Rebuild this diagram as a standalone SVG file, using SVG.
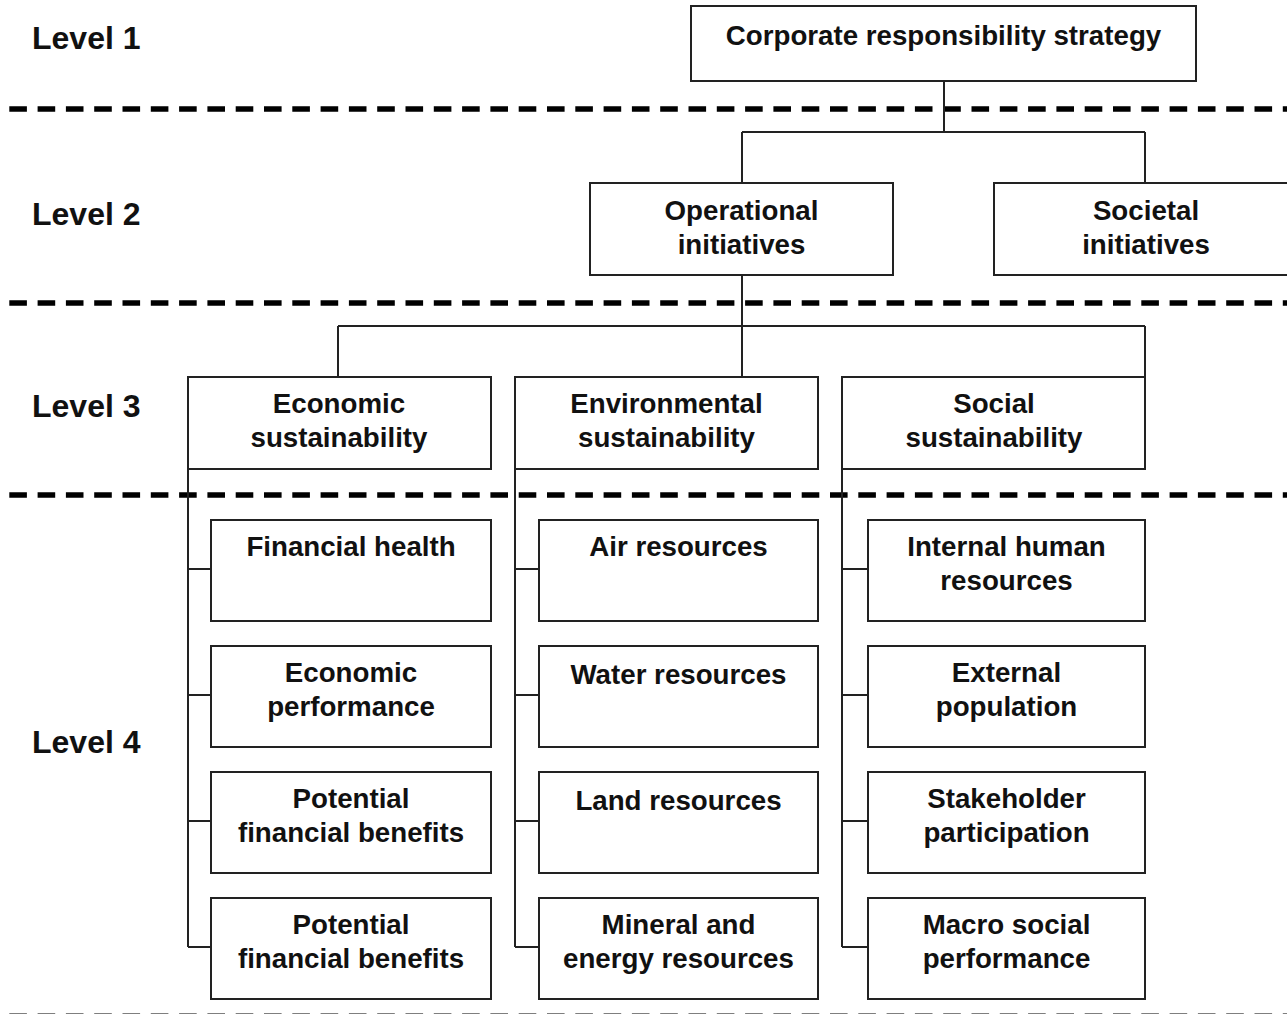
<svg xmlns="http://www.w3.org/2000/svg" width="1287" height="1014" viewBox="0 0 1287 1014">
<style>
.bg{fill:#fff}
.box{fill:#fff;stroke:#222;stroke-width:2}
.con{fill:none;stroke:#222;stroke-width:2}
.dash{stroke:#000;stroke-width:5.5;stroke-dasharray:17.6 10.7;fill:none}
.lvl{font-family:"Liberation Sans",Arial,sans-serif;font-weight:bold;font-size:32px;fill:#111}
.t{font-family:"Liberation Sans",Arial,sans-serif;font-weight:bold;font-size:27.7px;fill:#111;text-anchor:middle}
</style>
<rect class="bg" x="0" y="0" width="1287" height="1014"/>
<g id="separators">
<line class="dash" x1="9.3" y1="109" x2="1287" y2="109"/>
<line class="dash" x1="9.3" y1="303" x2="1287" y2="303"/>
<line class="dash" x1="9.3" y1="495" x2="1287" y2="495"/>
<line class="dash" x1="9.3" y1="1016.2" x2="1287" y2="1016.2"/>
</g>
<g id="level-labels">
<text class="lvl" x="32" y="49">Level 1</text>
<text class="lvl" x="32" y="225">Level 2</text>
<text class="lvl" x="32" y="417">Level 3</text>
<text class="lvl" x="32" y="753">Level 4</text>
</g>
<g id="connectors">
<path class="con" d="M944 81 V132 M742 132 H1145 M742 132 V183 M1145 132 V183"/>
<path class="con" d="M742 275 V377 M338 326 H1145 M338 326 V377 M1145 326 V377"/>
<path class="con" d="M188 469 V947 M188 569 H211 M188 695 H211 M188 821 H211 M188 947 H211"/>
<path class="con" d="M515 469 V947 M515 569 H539 M515 695 H539 M515 821 H539 M515 947 H539"/>
<path class="con" d="M842 469 V947 M842 569 H868 M842 695 H868 M842 821 H868 M842 947 H868"/>
</g>
<g id="n-corporate"><rect class="box" x="691" y="6" width="505" height="75"/><text class="t" x="943.5" y="45">Corporate responsibility strategy</text></g>
<g id="n-operational"><rect class="box" x="590" y="183" width="303" height="92"/><text class="t" x="741.5" y="220">Operational</text><text class="t" x="741.5" y="254">initiatives</text></g>
<g id="n-societal"><rect class="box" x="994" y="183" width="304" height="92"/><text class="t" x="1146" y="220">Societal</text><text class="t" x="1146" y="254">initiatives</text></g>
<g id="n-economic"><rect class="box" x="188" y="377" width="303" height="92"/><text class="t" x="339" y="413">Economic</text><text class="t" x="339" y="447">sustainability</text></g>
<g id="n-environmental"><rect class="box" x="515" y="377" width="303" height="92"/><text class="t" x="666.5" y="413">Environmental</text><text class="t" x="666.5" y="447">sustainability</text></g>
<g id="n-social"><rect class="box" x="842" y="377" width="303" height="92"/><text class="t" x="994" y="413">Social</text><text class="t" x="994" y="447">sustainability</text></g>
<g id="n-financial-health"><rect class="box" x="211" y="520" width="280" height="101"/><text class="t" x="351" y="556">Financial health</text></g>
<g id="n-economic-performance"><rect class="box" x="211" y="646" width="280" height="101"/><text class="t" x="351" y="682">Economic</text><text class="t" x="351" y="716">performance</text></g>
<g id="n-potential-1"><rect class="box" x="211" y="772" width="280" height="101"/><text class="t" x="351" y="808">Potential</text><text class="t" x="351" y="842">financial benefits</text></g>
<g id="n-potential-2"><rect class="box" x="211" y="898" width="280" height="101"/><text class="t" x="351" y="934">Potential</text><text class="t" x="351" y="968">financial benefits</text></g>
<g id="n-air"><rect class="box" x="539" y="520" width="279" height="101"/><text class="t" x="678.5" y="556">Air resources</text></g>
<g id="n-water"><rect class="box" x="539" y="646" width="279" height="101"/><text class="t" x="678.5" y="684">Water resources</text></g>
<g id="n-land"><rect class="box" x="539" y="772" width="279" height="101"/><text class="t" x="678.5" y="810">Land resources</text></g>
<g id="n-mineral"><rect class="box" x="539" y="898" width="279" height="101"/><text class="t" x="678.5" y="934">Mineral and</text><text class="t" x="678.5" y="968">energy resources</text></g>
<g id="n-internal"><rect class="box" x="868" y="520" width="277" height="101"/><text class="t" x="1006.5" y="556">Internal human</text><text class="t" x="1006.5" y="590">resources</text></g>
<g id="n-external"><rect class="box" x="868" y="646" width="277" height="101"/><text class="t" x="1006.5" y="682">External</text><text class="t" x="1006.5" y="716">population</text></g>
<g id="n-stakeholder"><rect class="box" x="868" y="772" width="277" height="101"/><text class="t" x="1006.5" y="808">Stakeholder</text><text class="t" x="1006.5" y="842">participation</text></g>
<g id="n-macro"><rect class="box" x="868" y="898" width="277" height="101"/><text class="t" x="1006.5" y="934">Macro social</text><text class="t" x="1006.5" y="968">performance</text></g>
</svg>
